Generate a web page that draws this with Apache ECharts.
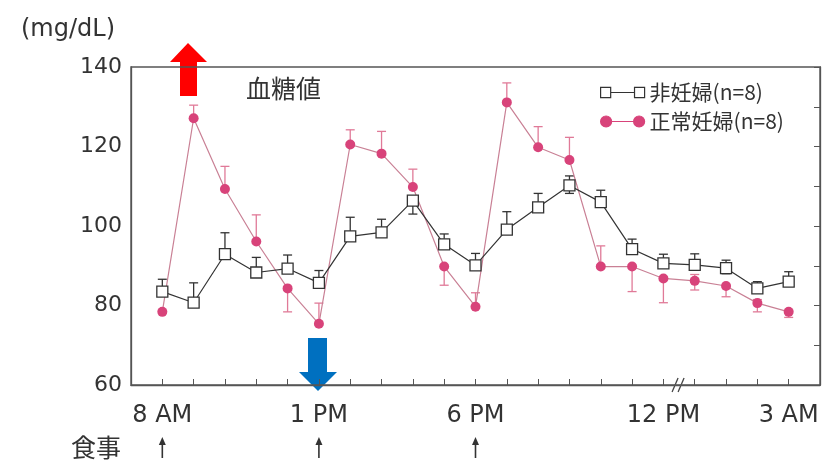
<!DOCTYPE html>
<html>
<head>
<meta charset="utf-8">
<script src="https://cdn.jsdelivr.net/npm/echarts@6/dist/echarts.min.js"></script>
<style>html,body{margin:0;padding:0;background:#fff;}#c{width:828px;height:462px;}</style>
</head>
<body>
<div id="c"></div>
<script>
// ---- data ----
var hours = ['8 AM','','','','','1 PM','','','','','6 PM','','','','','','12 PM','','','','3 AM'];
var mealTimes = ['8 AM','1 PM','6 PM'];
var yTicks = [60, 80, 100, 120, 140];
var nonPregName = '非妊婦(n=8)';
var pregName = '正常妊婦(n=8)';
var nonPreg =      [83.5, 80.7, 92.9, 88.3, 89.3, 85.7, 97.4, 98.4, 106.4, 95.4, 90.1, 99.1, 104.7, 110.2, 106.0, 94.2, 90.6, 90.2, 89.4, 84.3, 86.0];
var nonPregErrHi = [86.6, 85.7, 98.3, 92.1, 92.7, 88.8, 102.2, 101.7, 107.6, 98.0, 93.1, 103.6, 108.2, 112.6, 109.0, 96.7, 92.9, 93.0, 91.4, 86.0, 88.5];
var nonPregErrLo = [83.5, 80.7, 92.9, 88.3, 89.3, 85.7, 97.4, 98.4, 103.0, 95.4, 90.1, 99.1, 104.7, 108.2, 106.0, 94.2, 90.6, 90.2, 88.0, 84.3, 86.0];
var preg =         [78.4, 127.1, 109.3, 96.1, 84.3, 75.4, 120.5, 118.2, 109.8, 89.8, 79.7, 131.1, 119.8, 116.6, 89.8, 89.8, 86.8, 86.2, 84.9, 80.6, 78.4];
var pregErrHi =    [78.4, 130.4, 115.0, 102.8, 84.3, 80.6, 124.2, 123.8, 114.3, 89.8, 83.2, 136.0, 125.0, 122.3, 95.0, 89.8, 86.8, 87.8, 84.9, 81.5, 78.4];
var pregErrLo =    [78.4, 127.1, 109.3, 96.1, 78.4, 75.4, 120.5, 118.2, 109.8, 85.1, 79.7, 131.1, 119.8, 116.6, 89.8, 83.5, 80.7, 83.9, 82.2, 78.4, 77.0];

// ---- build ----
var axisCats = [''].concat(hours).concat(['']);
function pad(a){ return [null].concat(a).concat([null]); }
function errData(vals, lo, hi){
  var out = [];
  for (var i = 0; i < vals.length; i++) out.push([i + 1, vals[i], lo[i], hi[i]]);
  return out;
}
var black = '#333333', pink = '#d8437a', pinkLine = '#c98095', pinkErr = '#e07a98';
var FONT = 'DejaVu Sans';
var CJK = 'Noto Sans CJK JP';

function errRender(color){
  return function(params, api){
    var x = api.value(0);
    var p = api.coord([x, api.value(1)]);
    var lo = api.coord([x, api.value(2)]);
    var hi = api.coord([x, api.value(3)]);
    var cw = 4.5;
    var ch = [];
    var st = {stroke: color, lineWidth: 1.3};
    if (Math.abs(hi[1] - p[1]) > 0.5) {
      ch.push({type:'line', shape:{x1:p[0], y1:p[1], x2:hi[0], y2:hi[1]}, style:st});
      ch.push({type:'line', shape:{x1:hi[0]-cw, y1:hi[1], x2:hi[0]+cw, y2:hi[1]}, style:st});
    }
    if (Math.abs(lo[1] - p[1]) > 0.5) {
      ch.push({type:'line', shape:{x1:p[0], y1:p[1], x2:lo[0], y2:lo[1]}, style:st});
      ch.push({type:'line', shape:{x1:lo[0]-cw, y1:lo[1], x2:lo[0]+cw, y2:lo[1]}, style:st});
    }
    return {type:'group', children: ch};
  };
}

var chart = echarts.init(document.getElementById('c'), null, {renderer:'canvas'});
var axisLineStyle = {color:'#555', width:1.3};
var option = {
  animation: false,
  backgroundColor: '#fff',
  grid: {left:131, right:8, top:67, bottom:77},
  legend: {
    orient:'vertical', left:595, top:77, itemGap:8, itemWidth:44, itemHeight:11,
    textStyle:{fontFamily:CJK, fontSize:21, color:black},
    data: [
      {name: nonPregName, icon:'path://M0.6,0.6h9.8v9.8h-9.8z M10.4,5.5h23.2 M33.6,0.6h9.8v9.8h-9.8z',
        itemStyle:{color:'#fff', borderColor:black, borderWidth:1.2}},
      {name: pregName, icon:'path://M0,5.5a5.5,5.5 0 1,0 11,0a5.5,5.5 0 1,0 -11,0z M11,5.5h22 M33,5.5a5.5,5.5 0 1,0 11,0a5.5,5.5 0 1,0 -11,0z',
        itemStyle:{color:pink, borderColor:pink, borderWidth:1.2}}
    ]
  },
  xAxis: [{
    type:'category', data: axisCats, boundaryGap:false,
    axisLine:{onZero:false, lineStyle:axisLineStyle},
    axisTick:{inside:true, length:6, interval:0, lineStyle:{color:'#555'}},
    axisLabel:{interval:0, margin:19, fontFamily:FONT, fontSize:24, color:black},
    splitLine:{show:false}
  }],
  yAxis: [{
    type:'value', min:60, max:140, interval:10, position:'left',
    name:'(mg/dL)', nameLocation:'end', nameGap:25,
    nameTextStyle:{fontFamily:FONT, fontSize:24, color:black, align:'right', padding:[0,16,0,0]},
    axisLine:{show:true, onZero:false, lineStyle:axisLineStyle},
    axisTick:{inside:true, length:6, lineStyle:{color:'#555'}},
    axisLabel:{margin:9, fontFamily:FONT, fontSize:22, color:black,
      formatter:function(v){ return yTicks.indexOf(v) >= 0 ? String(v) : ''; }},
    splitLine:{show:false}
  },{
    type:'value', min:60, max:140, interval:10, position:'right',
    axisLine:{show:true, onZero:false, lineStyle:axisLineStyle},
    axisTick:{show:true, inside:true, length:6, lineStyle:{color:'#555'}},
    axisLabel:{show:false}, splitLine:{show:false}
  }],
  title: {text:'血糖値', left:241, top:71, textStyle:{fontFamily:CJK, fontSize:25, fontWeight:'normal', color:black}},
  series: [
    {type:'custom', name:'nonPregErr', renderItem: errRender(black), data: errData(nonPreg, nonPregErrLo, nonPregErrHi), z:1, silent:true},
    {type:'custom', name:'pregErr', renderItem: errRender(pinkErr), data: errData(preg, pregErrLo, pregErrHi), z:1, silent:true},
    {type:'line', name: pregName, data: pad(preg), symbol:'circle', symbolSize:10, z:3,
      itemStyle:{color:pink}, lineStyle:{color:pinkLine, width:1.2}},
    {type:'line', name: nonPregName, data: pad(nonPreg), symbol:'rect', symbolSize:11, z:4,
      itemStyle:{color:'#fff', borderColor:black, borderWidth:1.3}, lineStyle:{color:black, width:1.2}}
  ]
};
chart.setOption(option);

// annotations (frame, meal arrows, axis break, highlight arrows)
var g = [];
g.push({type:'rect', z:10, shape:{x:131, y:67, width:689, height:318}, style:{fill:'none', stroke:'#555', lineWidth:1.4}});
mealTimes.forEach(function(t){
  var idx = axisCats.indexOf(t);
  var px = chart.convertToPixel({xAxisIndex:0}, idx);
  g.push({type:'line', shape:{x1:px, y1:443, x2:px, y2:458}, style:{stroke:black, lineWidth:1.6}});
  g.push({type:'polygon', shape:{points:[[px, 437],[px-3.5, 445],[px+3.5, 445]]}, style:{fill:black}});
});
g.push({type:'text', left:71, top:435, style:{text:'食事', font:'25px "' + CJK + '"', fill:black}});
var b16 = chart.convertToPixel({xAxisIndex:0}, 17);
var b17 = chart.convertToPixel({xAxisIndex:0}, 18);
var bx = (b16 + b17) / 2;
g.push({type:'line', shape:{x1:bx-7, y1:392, x2:bx-1, y2:378}, style:{stroke:'#444', lineWidth:1.3}});
g.push({type:'line', shape:{x1:bx-1, y1:392, x2:bx+5, y2:378}, style:{stroke:'#444', lineWidth:1.3}});
// red up arrow
g.push({type:'polygon', shape:{points:[[188,43],[207,62],[197,62],[197,96],[180,96],[180,62],[170,62]]}, style:{fill:'#ff0000'}});
// blue down arrow
g.push({type:'polygon', shape:{points:[[308,338],[327,338],[327,372],[337,372],[318,391],[299,372],[308,372]]}, style:{fill:'#0070c0'}});
chart.setOption({graphic: g});
</script>
</body>
</html>
